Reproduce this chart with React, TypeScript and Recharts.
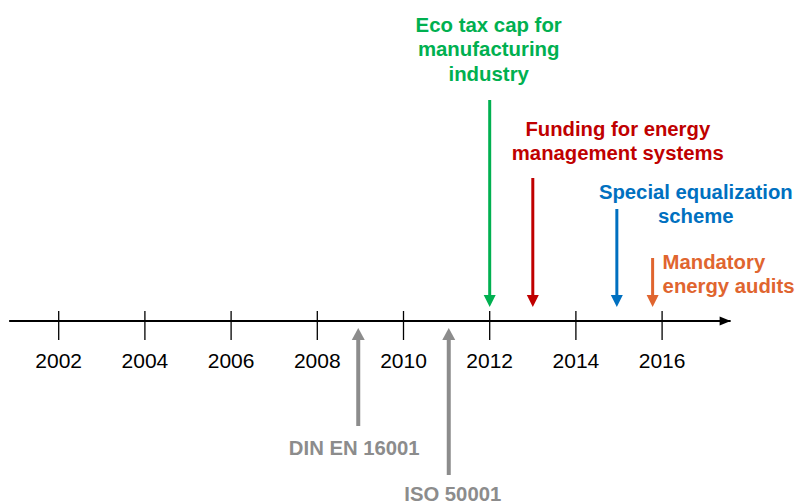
import React from "react";
import { ComposedChart, XAxis, YAxis, Line, Scatter, ReferenceLine } from "recharts";

document.body.style.margin = "0";

// timeline data
const tickYears = [2002, 2004, 2006, 2008, 2010, 2012, 2014, 2016];
const axisSpan = [2000.85, 2017.59];

const eventLabels = [
  ["Eco tax cap for", "manufacturing", "industry"],
  ["Funding for energy", "management systems"],
  ["Special equalization", "scheme"],
  ["Mandatory", "energy audits"],
  ["DIN EN 16001"],
  ["ISO 50001"],
];
const eventYears = [2012, 2013, 2014.95, 2015.78, 2008.95, 2011.05];
// how far the arrow tail sits from the axis (positive = above)
const arrowReach = [221, 143, 112, 63, -105, -154];

// styles / layout
const eventColors = ["#00B050", "#C00000", "#0070C0", "#E0652F", "#8C8C8C", "#8C8C8C"];
const labelLayout = [
  { dx: -1, dy: -68, anchor: "middle", size: 20.4 },
  { dx: 85, dy: -42, anchor: "middle", size: 20.3 },
  { dx: 79, dy: -10, anchor: "middle", size: 20.3 },
  { dx: 10, dy: 11, anchor: "start", size: 20.3 },
  { dx: -4, dy: 29, anchor: "middle", size: 20.3 },
  { dx: 4, dy: 26, anchor: "middle", size: 20.3 },
];
const FONT = "'Liberation Sans', Arial, sans-serif";
const W = 797;
const H = 503;

const axisData = axisSpan.map((x) => ({ x, y: 0 }));
const tickData = tickYears.map((x) => ({ x, y: 0 }));

const AxisHead = (props: any) => {
  const { cx, cy, index } = props;
  if (index !== axisData.length - 1) return <g key={`d${index}`} />;
  return (
    <polygon
      key={`d${index}`}
      points={`${cx},${cy} ${cx - 11},${cy - 4.5} ${cx - 11},${cy + 4.5}`}
      fill="#000"
    />
  );
};

const TickMark = (props: any) => {
  const { cx, cy, payload } = props;
  return (
    <g>
      <line x1={cx} y1={cy - 10} x2={cx} y2={cy + 19} stroke="#000" strokeWidth={1.3} />
      <text x={cx} y={cy + 47} textAnchor="middle" fontSize={21} fontFamily={FONT} fill="#000">
        {payload.x}
      </text>
    </g>
  );
};

const makeArrow = (i: number) => (p: any) => {
  const { x1, y1, x2, y2 } = p;
  const color = eventColors[i];
  const gray = i >= 4;
  const dir = Math.sign(y2 - y1);
  const headLen = 12;
  const half = gray ? 6.5 : 6;
  const base = y2 - dir * headLen;
  const lay = labelLayout[i];
  return (
    <g>
      <line x1={x1} y1={y1} x2={x1} y2={base + dir} stroke={color} strokeWidth={gray ? 4 : 3} />
      <polygon points={`${x2},${y2} ${x2 - half},${base} ${x2 + half},${base}`} fill={color} />
      <text
        x={x1 + lay.dx}
        y={y1 + lay.dy}
        textAnchor={lay.anchor as any}
        fontSize={lay.size}
        fontWeight="bold"
        fontFamily={FONT}
        fill={color}
      >
        {eventLabels[i].map((t, k) => (
          <tspan key={k} x={x1 + lay.dx} dy={k === 0 ? 0 : 24.3}>
            {t}
          </tspan>
        ))}
      </text>
    </g>
  );
};

export default function App() {
  return (
    <div style={{ width: W, height: H, background: "#fff" }}>
      <ComposedChart width={W} height={H} margin={{ top: 0, right: 0, bottom: 0, left: 0 }}>
        <XAxis type="number" dataKey="x" domain={[2000.638, 2019.13]} allowDataOverflow hide />
        <YAxis type="number" dataKey="y" domain={[-182, 321]} allowDataOverflow hide />
        <Line
          data={axisData}
          dataKey="y"
          stroke="#000"
          strokeWidth={2}
          dot={AxisHead}
          activeDot={false}
          isAnimationActive={false}
        />
        <Scatter data={tickData} dataKey="y" shape={TickMark} isAnimationActive={false} />
        {eventYears.map((yr, i) => (
          <ReferenceLine
            key={i}
            segment={[
              { x: yr, y: arrowReach[i] },
              { x: yr, y: arrowReach[i] > 0 ? 14 : -7 },
            ]}
            shape={makeArrow(i)}
          />
        ))}
      </ComposedChart>
    </div>
  );
}
